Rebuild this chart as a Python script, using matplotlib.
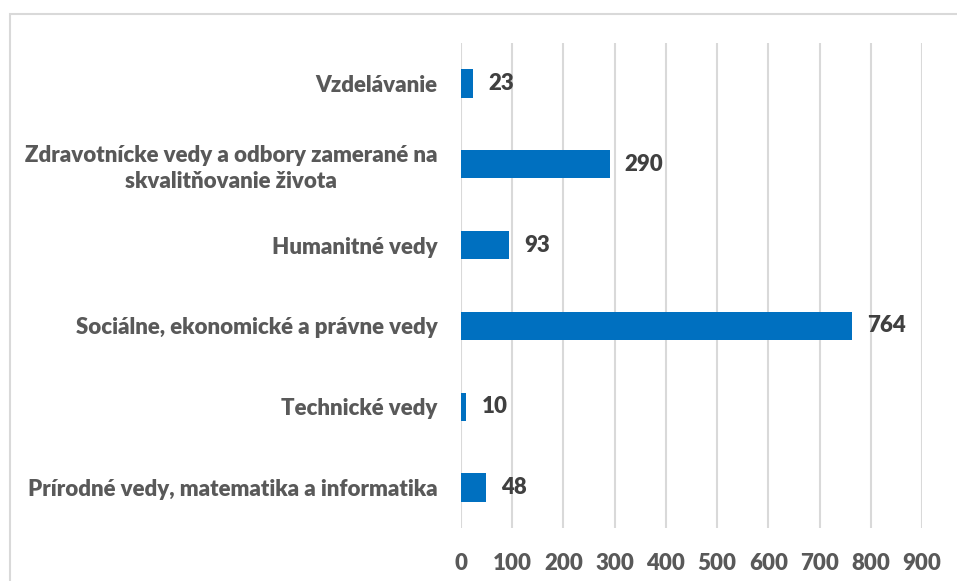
import matplotlib
matplotlib.use("Agg")
import matplotlib.pyplot as plt
from matplotlib.patches import Rectangle

plt.rcParams['font.family'] = ['Lato', 'DejaVu Sans']

categories = [
    "Prírodné vedy, matematika a informatika",
    "Technické vedy",
    "Sociálne, ekonomické a právne vedy",
    "Humanitné vedy",
    "Zdravotnícke vedy a odbory zamerané na\nskvalitňovanie života",
    "Vzdelávanie",
]
values = [48, 10, 764, 93, 290, 23]
xticks = [0, 100, 200, 300, 400, 500, 600, 700, 800, 900]

fig = plt.figure(figsize=(9.57, 5.81), dpi=100)
ax = fig.add_axes([0.4817, 0.0912, 0.4817, 0.8348])

# chart frame (extends past right/bottom edge like in the source)
fig.patches.append(Rectangle((10 / 957, -0.1), 1.2, 1 - 14 / 581 + 0.1,
                             transform=fig.transFigure, fill=False,
                             edgecolor="#d9d9d9", linewidth=1.5))

y = range(len(categories))
bars = ax.barh(y, values, height=0.35, color="#0070C0", zorder=3)

for b, v in zip(bars, values):
    ax.annotate(str(v), (b.get_width(), b.get_y() + b.get_height() / 2),
                xytext=(11, 0), textcoords="offset points",
                va="center", ha="left", fontsize=16, fontweight="heavy",
                color="#404040")

ax.set_xlim(0, 900)
ax.set_ylim(-0.5, 5.5)
ax.set_xticks(xticks)
ax.set_xticklabels([str(t) for t in xticks], fontsize=16, fontweight="heavy",
                   color="#595959")
ax.set_yticks(list(y))
ax.set_yticklabels(categories, fontsize=16, fontweight="heavy", color="#595959",
                   multialignment="center", linespacing=1.3)
ax.tick_params(axis="both", length=0)
ax.tick_params(axis="y", pad=17)
ax.tick_params(axis="x", pad=18)
ax.grid(axis="x", color="#d9d9d9", linewidth=1.5, zorder=0)
for s in ax.spines.values():
    s.set_visible(False)

fig.savefig("out.png", dpi=100)
